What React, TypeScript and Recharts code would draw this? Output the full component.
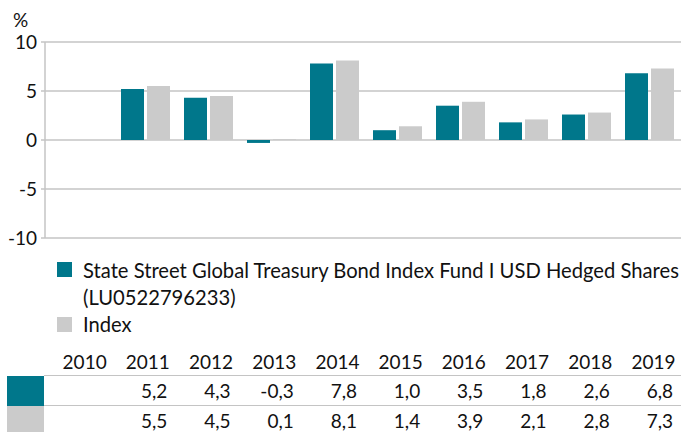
import React from "react";
import { BarChart, Bar, XAxis, YAxis, CartesianGrid } from "recharts";

const YEARS = ["2010", "2011", "2012", "2013", "2014", "2015", "2016", "2017", "2018", "2019"];
const FUND = [null, 5.2, 4.3, -0.3, 7.8, 1.0, 3.5, 1.8, 2.6, 6.8];
const INDEX = [null, 5.5, 4.5, 0.1, 8.1, 1.4, 3.9, 2.1, 2.8, 7.3];
const Y_TICKS = [-10, -5, 0, 5, 10];

const FUND_NAME = "State Street Global Treasury Bond Index Fund I USD Hedged Shares";
const FUND_ISIN = "(LU0522796233)";
const INDEX_NAME = "Index";

const TEAL = "#00778b";
const GREY = "#cbcbcb";
const GRID = "#c4c4c4";
const FONT = "Lato, 'Open Sans', sans-serif";
const TEXT = "#111";

const data = YEARS.map((y, i) => ({ year: y, fund: FUND[i], index: INDEX[i] }));

const fmt = (v: number | null) => (v == null ? "" : v.toFixed(1).replace(".", ","));

const COL_W = 63.2;
const COL_X0 = 44;

function TableRow({ top, color, values }: { top: number; color: string; values: (number | null)[] }) {
  return (
    <>
      <div style={{ position: "absolute", left: 7, top, width: 37, height: 30, background: color }} />
      {values.map((v, i) => (
        <div
          key={i}
          style={{
            position: "absolute",
            left: COL_X0 + i * COL_W,
            width: COL_W - 3,
            top,
            height: 30,
            lineHeight: "30px",
            textAlign: "right",
          }}
        >
          {fmt(v)}
        </div>
      ))}
    </>
  );
}

export default function App() {
  return (
    <div
      style={{
        position: "fixed",
        left: 0,
        top: 0,
        width: 681,
        height: 432,
        background: "#fff",
        fontFamily: FONT,
        color: TEXT,
        fontSize: 19,
        overflow: "hidden",
      }}
    >
      <div style={{ position: "absolute", left: 13, top: 8, fontSize: 19 }}>%</div>
      <BarChart
        width={681}
        height={250}
        data={data}
        margin={{ top: 42, right: 0, bottom: 12, left: 0 }}
        barGap={3}
        barSize={23}
      >
        <CartesianGrid vertical={false} stroke={GRID} strokeWidth={1.5} />
        <XAxis dataKey="year" hide padding={{ left: 6, right: 0 }} />
        <YAxis
          width={45}
          domain={[-10, 10]}
          ticks={Y_TICKS}
          interval={0}
          axisLine={{ stroke: GRID, strokeWidth: 1.5 }}
          tickLine={{ stroke: GRID, strokeWidth: 1.5 }}
          tickSize={4}
          tickMargin={4}
          tick={{ fill: TEXT, fontSize: 19, fontFamily: FONT }}
        />
        <Bar dataKey="fund" fill={TEAL} isAnimationActive={false} />
        <Bar dataKey="index" fill={GREY} isAnimationActive={false} />
      </BarChart>

      <div style={{ position: "absolute", left: 57, top: 262, width: 15, height: 15, background: TEAL }} />
      <div
        style={{
          position: "absolute",
          left: 83,
          top: 257,
          lineHeight: "27px",
          fontSize: 20.2,
          whiteSpace: "nowrap",
        }}
      >
        {FUND_NAME}
        <br />
        {FUND_ISIN}
      </div>
      <div style={{ position: "absolute", left: 57, top: 317, width: 15, height: 15, background: GREY }} />
      <div
        style={{
          position: "absolute",
          left: 83,
          top: 311,
          lineHeight: "27px",
          fontSize: 20.2,
          whiteSpace: "nowrap",
        }}
      >
        {INDEX_NAME}
      </div>

      {YEARS.map((y, i) => (
        <div
          key={y}
          style={{
            position: "absolute",
            left: COL_X0 + i * COL_W,
            width: COL_W - 0.5,
            top: 347,
            height: 30,
            lineHeight: "30px",
            textAlign: "right",
          }}
        >
          {y}
        </div>
      ))}
      <div style={{ position: "absolute", left: 44, top: 375, width: 637, height: 1, background: GRID }} />
      <TableRow top={376} color={TEAL} values={FUND} />
      <div style={{ position: "absolute", left: 44, top: 405, width: 637, height: 1, background: GRID }} />
      <TableRow top={406} color={GREY} values={INDEX} />
    </div>
  );
}
